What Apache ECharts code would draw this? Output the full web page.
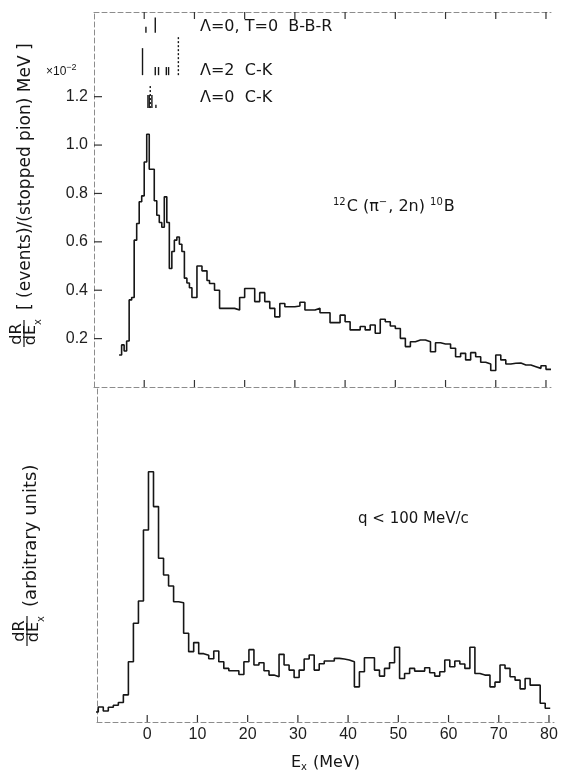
<!DOCTYPE html>
<html>
<head>
<meta charset="utf-8">
<script src="https://cdn.jsdelivr.net/npm/echarts@6/dist/echarts.min.js"></script>
<style>
  html, body { margin: 0; padding: 0; background: #fff; }
  #chart { width: 563px; height: 779px; }
  #err { position: absolute; left: 0; top: 400px; width: 563px; font: 11px monospace; color: #c00; white-space: pre-wrap; }
</style>
</head>
<body>
<div id="chart"></div>
<div id="err"></div>
<script>
// ---- 12C(pi-,2n)10B excitation spectrum, dR/dEx in units of 1e-2 per stopped pion per MeV ----
// 0.5 MeV bins over the low-lying region
const upperFineStart = -5.0;
const upperFineWidth = 0.5;
const upperFineValues = [
  0.132, 0.174, 0.149, 0.190, 0.360, 0.370, 0.607, 0.676, 0.766, 0.790,
  0.930, 1.045, 0.900, 0.900, 0.770, 0.710, 0.680, 0.660, 0.786, 0.680,
  0.490, 0.560, 0.607, 0.620, 0.590, 0.560, 0.450, 0.430, 0.410, 0.370,
  0.370, 0.500, 0.500, 0.480, 0.480, 0.440
];
// 1 MeV bins over the continuum
const upperCoarseStart = 13.0;
const upperCoarseWidth = 1.0;
const upperCoarseValues = [
  0.428, 0.400, 0.325, 0.325, 0.325, 0.318, 0.370, 0.407, 0.407, 0.353,
  0.390, 0.353, 0.325, 0.290, 0.345, 0.332, 0.332, 0.335, 0.350, 0.318,
  0.318, 0.325, 0.307, 0.307, 0.266, 0.266, 0.297, 0.270, 0.236, 0.236,
  0.250, 0.236, 0.256, 0.222, 0.280, 0.270, 0.252, 0.242, 0.201, 0.167,
  0.187, 0.194, 0.194, 0.187, 0.146, 0.183, 0.178, 0.178, 0.160, 0.125,
  0.139, 0.112, 0.142, 0.125, 0.102, 0.095, 0.068, 0.132, 0.112, 0.095,
  0.098, 0.099, 0.091, 0.091, 0.084, 0.077, 0.088, 0.073
];

// ---- same spectrum for q < 100 MeV/c, arbitrary units, 1 MeV bins ----
const lowerStart = -10.75;
const lowerWidth = 1.0;
const lowerValues = [
  3.0, 4.5, 3.3, 4.4, 5.0, 5.8, 8.1, 18.0, 29.5, 36.1,
  57.3, 74.7, 64.3, 48.9, 43.9, 40.6, 35.9, 35.6, 26.5, 21.0,
  23.7, 20.4, 19.9, 18.9, 21.2, 18.0, 16.0, 15.3, 15.3, 14.2,
  18.0, 21.6, 17.0, 17.7, 15.3, 14.0, 13.5, 20.2, 17.0, 15.5,
  13.3, 15.5, 18.8, 20.0, 15.5, 17.4, 18.2, 18.2, 19.0, 18.8,
  18.5, 18.0, 10.5, 15.0, 19.2, 19.2, 15.5, 13.7, 16.0, 17.7,
  22.3, 13.0, 14.5, 16.0, 15.2, 15.2, 16.2, 14.7, 13.7, 15.0,
  18.5, 16.5, 18.2, 17.3, 16.0, 22.3, 14.5, 14.0, 14.0, 10.5,
  11.9, 17.0, 16.0, 13.5, 12.5, 9.9, 13.0, 11.0, 11.0, 5.6,
  4.1
];

// ---- predicted level schemes: excitation energy (MeV) and relative strength ----
const bbrLevels = [0.34, 2.2];                       // Lambda=0, T=0  B-B-R
const bbrStrengths = [0.4, 1.0];
const ck2Levels = [-0.34, 2.2, 2.85, 4.4, 4.85];     // Lambda=2  C-K
const ck2Strengths = [1.0, 0.3, 0.3, 0.3, 0.3];
const ck2Thresholds = [6.8];
const ck0Levels = [0.74, 1.0, 1.53, 2.33];           // Lambda=0  C-K
const ck0Strengths = [1.0, 1.0, 1.0, 0.25];
const ck0Thresholds = [1.2];

// ---- axis ticks ----
const energyTicks = [0, 10, 20, 30, 40, 50, 60, 70, 80];
const rateTicks = [0.2, 0.4, 0.6, 0.8, 1.0, 1.2];

// histogram bins -> step polyline (left edge of each bin, closed at the last right edge)
function histPoints(start, width, values, close) {
  const pts = values.map((v, i) => [start + i * width, v]);
  if (close) pts.push([start + values.length * width, values[values.length - 1]]);
  return pts;
}
const upperPoints = histPoints(upperFineStart, upperFineWidth, upperFineValues, false)
  .concat(histPoints(upperCoarseStart, upperCoarseWidth, upperCoarseValues, true));
const lowerPoints = histPoints(lowerStart, lowerWidth, lowerValues, true);

// level-scheme rows: baseline and full stick height, in units of the upper y axis
const levelRows = [
  { levels: bbrLevels, strengths: bbrStrengths, thresholds: [], base: 1.464, unit: 0.0636, thrUnit: 0 },
  { levels: ck2Levels, strengths: ck2Strengths, thresholds: ck2Thresholds, base: 1.289, unit: 0.1116, thrUnit: 0.157 },
  { levels: ck0Levels, strengths: ck0Strengths, thresholds: ck0Thresholds, base: 1.153, unit: 0.0537, thrUnit: 0.095 }
];
const stickData = [];
levelRows.forEach(r => {
  r.levels.forEach((e, i) => stickData.push([e, r.base, r.base + r.unit * r.strengths[i], 0]));
  r.thresholds.forEach(e => stickData.push([e, r.base, r.base + r.thrUnit, 1]));
});

const INK = '#161616';
const TICK_COLOR = '#333';
const TICK_FONT = 'Liberation Sans';
const NOTE_FONT = 'DejaVu Sans';
function axisLine() {
  return { show: true, onZero: false, lineStyle: { color: '#8c8c8c', width: 1, type: [5, 3] } };
}
function energyAxis(gridIndex, position, withLabels) {
  return {
    type: 'value', gridIndex: gridIndex, position: position, min: -10, max: 81, interval: 10,
    axisLine: axisLine(),
    axisTick: { show: false },
    splitLine: { show: false },
    axisLabel: withLabels ? {
      show: true, margin: 5, customValues: energyTicks,
      fontFamily: TICK_FONT, fontSize: 16, color: '#1e1e1e',
      formatter: v => (v >= 0 && v <= 80) ? String(v) : ''
    } : { show: false }
  };
}
function textStyle(text, size, extra) {
  return Object.assign({ text: text, fill: INK, fontFamily: NOTE_FONT, fontSize: size,
                         verticalAlign: 'middle' }, extra || {});
}
function centered(text, size) {
  return textStyle(text, size, { align: 'center' });
}
function tickLine(x1, y1, x2, y2) {
  return { type: 'line', shape: { x1: x1, y1: y1, x2: x2, y2: y2 },
           style: { stroke: TICK_COLOR, lineWidth: 1.2 } };
}
// inward tick marks on the horizontal frame lines of a panel
function energyTickSeries(xIdx, yIdx, edges) {
  return {
    type: 'custom', xAxisIndex: xIdx, yAxisIndex: yIdx, silent: true,
    data: energyTicks.map(e => [e, 0]),
    renderItem: function (params, api) {
      const cs = params.coordSys;
      const x = api.coord([api.value(0), 0])[0];
      const children = [];
      if (edges.indexOf('bottom') >= 0) children.push(tickLine(x, cs.y + cs.height, x, cs.y + cs.height - 7));
      if (edges.indexOf('top') >= 0) children.push(tickLine(x, cs.y, x, cs.y + 7));
      return { type: 'group', children: children };
    }
  };
}

// x axis of the lower panel carries labels and the title
const xBottom = energyAxis(1, 'bottom', true);
xBottom.name = '{e|E}{s|x}{e| (MeV)}';
xBottom.nameLocation = 'middle';
xBottom.nameGap = 31;
xBottom.nameTextStyle = { rich: {
  e: { fontFamily: NOTE_FONT, fontSize: 16, color: INK },
  s: { fontFamily: NOTE_FONT, fontSize: 10, color: INK, padding: [9, 1, 0, 0] } } };

const option = {
  animation: false,
  grid: [
    { left: 94, top: 12, width: 457, height: 375 },
    { left: 97, top: 387, width: 457, height: 335 }
  ],
  xAxis: [ energyAxis(0, 'bottom', false), xBottom, energyAxis(0, 'top', false) ],
  yAxis: [
    { type: 'value', gridIndex: 0, min: 0, max: 1.55, interval: 0.2, axisLine: axisLine(),
      axisTick: { show: false },
      axisLabel: { show: true, margin: 6, customValues: rateTicks,
                   fontFamily: TICK_FONT, fontSize: 16, color: '#1e1e1e',
                   formatter: v => (v > 0.1 && v < 1.3) ? v.toFixed(1) : '' },
      splitLine: { show: false } },
    { type: 'value', gridIndex: 1, min: 0, max: 100, axisLine: axisLine(),
      axisTick: { show: false }, axisLabel: { show: false }, splitLine: { show: false } }
  ],
  series: [
    { type: 'line', xAxisIndex: 0, yAxisIndex: 0, step: 'end', data: upperPoints,
      showSymbol: false, symbol: 'none', lineStyle: { color: INK, width: 1.6 } },
    { type: 'line', xAxisIndex: 1, yAxisIndex: 1, step: 'end', data: lowerPoints,
      showSymbol: false, symbol: 'none', lineStyle: { color: INK, width: 1.6 } },
    // level-scheme sticks
    { type: 'custom', xAxisIndex: 0, yAxisIndex: 0, data: stickData, silent: true,
      renderItem: function (params, api) {
        const p0 = api.coord([api.value(0), api.value(1)]);
        const p1 = api.coord([api.value(0), api.value(2)]);
        return { type: 'line', shape: { x1: p0[0], y1: p0[1], x2: p1[0], y2: p1[1] },
                 style: { stroke: INK, lineWidth: 1.4, lineDash: api.value(3) ? [2, 2] : null } };
      } },
    // frame ticks
    energyTickSeries(0, 0, ['bottom', 'top']),
    energyTickSeries(1, 1, ['bottom']),
    { type: 'custom', xAxisIndex: 0, yAxisIndex: 0, silent: true,
      data: rateTicks.map(v => [-10, v]),
      renderItem: function (params, api) {
        const cs = params.coordSys;
        const y = api.coord([api.value(0), api.value(1)])[1];
        return tickLine(cs.x, y, cs.x + 8, y);
      } }
  ],
  graphic: [
    { type: 'text', x: 46, y: 72, style: { text: '×10{s|−2}', fill: INK, fontFamily: TICK_FONT, fontSize: 12,
      verticalAlign: 'middle', rich: { s: { fontFamily: TICK_FONT, fontSize: 9, padding: [0, 0, 8, 0] } } } },
    { type: 'text', x: 200, y: 26.5, style: textStyle('Λ=0, T=0  B-B-R', 16) },
    { type: 'text', x: 200, y: 71, style: textStyle('Λ=2  C-K', 16) },
    { type: 'text', x: 200, y: 97.5, style: textStyle('Λ=0  C-K', 16) },
    { type: 'text', x: 333, y: 207, style: textStyle('{p|12}C (π{p|−}, 2n) {p|10}B', 16,
      { rich: { p: { fontFamily: NOTE_FONT, fontSize: 10, padding: [0, 1, 9, 0] } } }) },
    { type: 'text', x: 358, y: 519, style: textStyle('q < 100 MeV/c', 15) },
    // upper y title, read bottom to top
    { type: 'group', x: 24, y: 350, rotation: Math.PI / 2, children: [
      { type: 'text', x: 16, y: -7, style: centered('dR', 16) },
      { type: 'line', shape: { x1: 3, y1: 0, x2: 30, y2: 0 }, style: { stroke: INK, lineWidth: 1.2 } },
      { type: 'text', x: 15, y: 7, style: centered('dE', 16) },
      { type: 'text', x: 28, y: 14, style: centered('x', 10) },
      { type: 'text', x: 40, y: 2, style: textStyle('[ (events)/(stopped pion) MeV ]', 17) }
    ] },
    // lower y title
    { type: 'group', x: 27, y: 650, rotation: Math.PI / 2, children: [
      { type: 'text', x: 19, y: -7, style: centered('dR', 16) },
      { type: 'line', shape: { x1: 4, y1: 0, x2: 34, y2: 0 }, style: { stroke: INK, lineWidth: 1.2 } },
      { type: 'text', x: 18, y: 7, style: centered('dE', 16) },
      { type: 'text', x: 31, y: 14, style: centered('x', 10) },
      { type: 'text', x: 43, y: 4, style: textStyle('(arbitrary units)', 18) }
    ] }
  ]
};

const chart = echarts.init(document.getElementById('chart'));
try {
  chart.setOption(option);
} catch (e) {
  document.getElementById('err').textContent = e.message + '\n' + (e.stack || '').split('\n').slice(1, 5).join('\n');
}
</script>
</body>
</html>
